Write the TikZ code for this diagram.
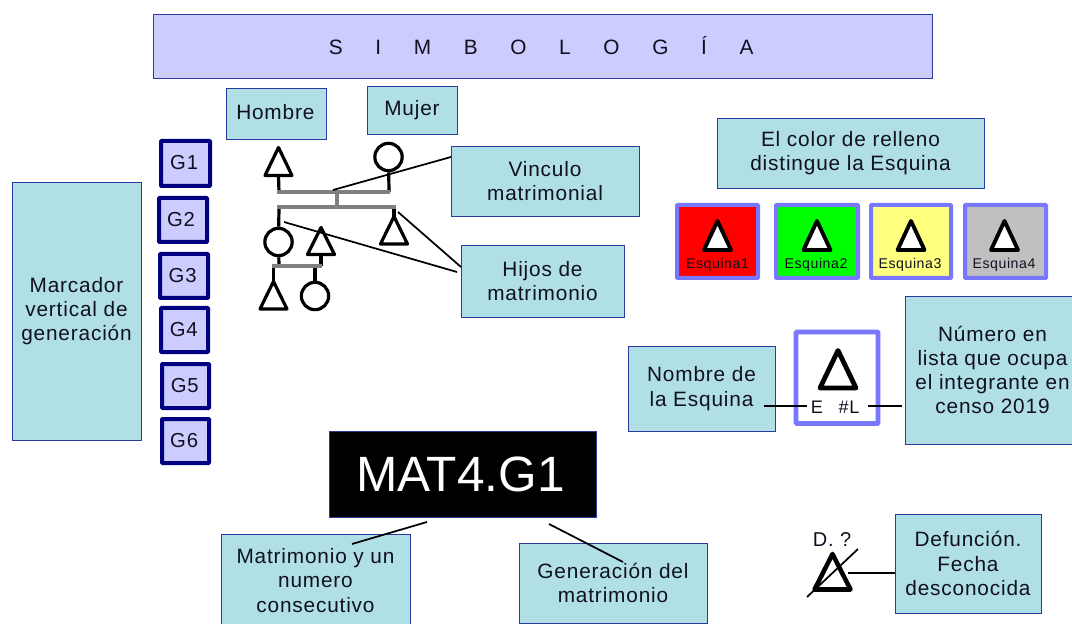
\documentclass[tikz,border=0pt]{standalone}
\usepackage{fontspec}
\setmainfont{Liberation Sans}[LetterSpace=4]
\definecolor{lblue}{HTML}{B0E0E6}
\definecolor{bedge}{HTML}{2A3A9E}
\definecolor{lav}{HTML}{CCCCFF}
\definecolor{navy2}{HTML}{000080}
\definecolor{peri}{HTML}{7777FF}
\definecolor{gbar}{HTML}{808080}
\definecolor{ink}{HTML}{101020}
\tikzset{
 x=0.75pt,y=-0.75pt,
 lbl/.style={draw=bedge,line width=0.7pt,fill=lblue,align=center,inner sep=0pt,text=ink,font=\fontsize{15.6}{18.2}\selectfont},
 gen/.style={draw=navy2,line width=3pt,fill=lav,inner sep=0pt,text=ink,text depth=1pt,rounded corners=0.6pt,font=\fontsize{15.2}{18}\selectfont},
 corner/.style={draw=peri,line width=3pt,inner sep=0pt,rounded corners=0.6pt},
 person/.style={draw=black,line width=2.4pt,fill=white,line join=round},
 stem/.style={draw=black,line width=2.4pt},
 bar/.style={draw=gbar,line width=2.7pt},
 lead/.style={draw=black,line width=1.3pt},
 small/.style={inner sep=0pt,text=ink,font=\fontsize{10.6}{12}\selectfont},
 bigtag/.style={inner sep=0pt,text=ink,font=\fontsize{13.6}{15}\selectfont},
}
% name, L, T, R, B, style, text
\newcommand\bx[7]{%
 \pgfmathsetmacro\bw{0.75*(#4-#2)}\pgfmathsetmacro\bh{0.75*(#5-#3)}%
 \node[#6,minimum width=\bw pt,minimum height=\bh pt] (#1) at ({(#2+#4)/2},{(#3+#5)/2}) {#7};}
% name, cx, apex y, half base, base y, width
\newcommand\tri[6]{%
 \draw[person,line width=#6] (#2,#3) -- ({#2-#4},#5) -- ({#2+#4},#5) -- cycle;
 \coordinate (#1) at (#2,#5);}
\newcommand\cir[3]{%
 \node[person,circle,minimum size=20.5pt,inner sep=0pt] (#1) at (#2,#3) {};}
\begin{document}
\begin{tikzpicture}
\useasboundingbox (0,0) rectangle (1072,624);
\clip (0,0) rectangle (1072,624);
\bx{title}{153}{14}{932}{78}{lbl,fill=lav}{\hspace*{-2pt}\spaceskip=24.5pt S I M B O L O G Í A}
\bx{hombre}{226}{88}{326}{139}{lbl,text depth=3pt}{\hspace*{-1pt}Hombre}
\bx{mujer}{367}{86}{457}{134}{lbl}{Mujer}
\bx{g1}{161}{141}{210}{186}{gen}{\hspace*{-2pt}G1}
\bx{g2}{159}{198}{207}{242}{gen}{\hspace*{-3pt}G2}
\bx{g3}{160}{254}{208}{298}{gen}{\hspace*{-2pt}G3}
\bx{g4}{161}{308}{208}{352}{gen}{\hspace*{-1pt}G4}
\bx{g5}{162}{364}{209}{408}{gen}{\hspace*{-1pt}G5}
\bx{g6}{162}{419}{209}{463}{gen}{\hspace*{-2pt}G6}
\bx{marc}{12}{182}{141}{440}{lbl}{Marcador\\vertical de\\generación}
\bx{vinc}{451}{146}{639}{216}{lbl}{Vinculo\\matrimonial}
\bx{hijos}{461}{245}{624}{317}{lbl}{Hijos de\\matrimonio}
\bx{color}{717}{118}{984}{188}{lbl}{El color de relleno\\distingue la Esquina}
\bx{e1}{677}{205}{758}{278}{corner,fill=red}{}
\bx{e2}{776}{205}{858}{278}{corner,fill=green}{}
\bx{e3}{871}{205}{951}{278}{corner,fill={rgb,255:red,255;green,255;blue,128}}{}
\bx{e4}{965}{205}{1046}{278}{corner,fill={rgb,255:red,192;green,192;blue,192}}{}
\tri{t1}{717.5}{221}{13.5}{250}{2.9pt}
\tri{t2}{817}{221}{13.5}{250}{2.9pt}
\tri{t3}{911}{221}{13.5}{250}{2.9pt}
\tri{t4}{1004.5}{221}{13.5}{250}{2.9pt}
\node[small] (l1) at (717.5,264.5) {Esquina1};
\node[small] (l2) at (816,264.5) {Esquina2};
\node[small] (l3) at (910,264.5) {Esquina3};
\node[small] (l4) at (1004,264.5) {Esquina4};
% pedigree
\tri{pa}{278.5}{147.5}{13.5}{175.5}{2.4pt}
\cir{ma}{388.5}{157}
\tri{tb}{321}{227.5}{13.5}{254.5}{2.4pt}
\cir{cb}{278.5}{242}
\tri{tc}{394}{216.5}{13.5}{244}{2.4pt}
\tri{td}{273.5}{281.5}{13.5}{309}{2.4pt}
\cir{ce}{315}{296}
\coordinate (b1l) at (277,192); \coordinate (b1r) at (390,192);
\coordinate (b2l) at (277,207); \coordinate (b2r) at (396,207);
\coordinate (b3l) at (272,266); \coordinate (b3r) at (322,266);
\coordinate (b1m) at (337,192); \coordinate (b2m) at (337,207);
\coordinate (s1) at (279,192); \coordinate (s2) at (389,192);
\coordinate (s3) at (279,207); \coordinate (s4) at (394,207); \coordinate (s4b) at (394,218);
\coordinate (s5) at (279,266); \coordinate (s6) at (321,266);
\coordinate (s7) at (273.5,266); \coordinate (s7b) at (273.5,283);
\coordinate (s8) at (315,266);
\draw[stem] (pa) -- (s1);
\draw[stem] (ma) -- (s2);
\draw[stem] (s3) -- (cb);
\draw[stem] (s4) -- (s4b);
\draw[stem] (cb) -- (s5);
\draw[stem] (tb) -- (s6);
\draw[stem] (s7) -- (s7b);
\draw[stem] (s8) -- (ce);
\draw[bar] (b1l) -- (b1r);
\draw[bar] (b2l) -- (b2r);
\draw[bar] (b3l) -- (b3r);
\draw[bar] (b1m) -- (b2m);
\coordinate (a1) at (333,190); \coordinate (a2) at (284,222); \coordinate (a3) at (398,212);
\coordinate (a4) at (457,272); \coordinate (a5) at (461,267); \coordinate (a6) at (451,157);
\draw[lead] (a6) -- (a1);
\draw[lead] (a2) -- (a4);
\draw[lead] (a3) -- (a5);
% explained corner box
\bx{nombre}{628}{346}{775}{431}{lbl}{Nombre de\\la Esquina}
\bx{numero}{905}{296}{1080}{444}{lbl}{Número en\\lista que ocupa\\el integrante en\\censo 2019}
\bx{big}{796}{332}{878}{423.5}{corner,line width=3.5pt,fill=white}{}
\tri{tbig}{838}{350.5}{18}{388}{3.6pt}
\node[bigtag] (el) at (817,407) {E};
\node[bigtag] (ll) at (849,407) {\#L};
\coordinate (n1) at (764,406); \coordinate (n2) at (807,406);
\coordinate (n3) at (868,406); \coordinate (n4) at (902,406);
\draw[lead,line width=1.5pt] (n1) -- (n2);
\draw[lead,line width=1.5pt] (n3) -- (n4);
% code
\bx{code}{329}{431}{596}{517}{draw=bedge,line width=0.7pt,fill=black,text=white,inner sep=0pt,font=\fontsize{37.2}{40}\selectfont\addfontfeature{LetterSpace=0}}{\hspace*{-3pt}MAT4.G1}
\bx{matr}{221}{534}{410}{627}{lbl}{Matrimonio y un\\numero\\consecutivo}
\bx{gener}{519}{543}{707}{623}{lbl}{Generación del\\matrimonio}
\coordinate (c1) at (352,544); \coordinate (c2) at (427,522);
\coordinate (c3) at (549,524); \coordinate (c4) at (623,562);
\draw[lead] (c1) -- (c2);
\draw[lead] (c3) -- (c4);
% death
\bx{def}{895}{514}{1041}{613}{lbl}{Defunción.\\Fecha\\desconocida}
\tri{td2}{832.5}{554}{18}{589.5}{3.4pt}
\node[inner sep=0pt,text=ink,font=\fontsize{15}{17}\selectfont] (dq) at (832,540) {D. ?};
\coordinate (d1) at (807,597); \coordinate (d2) at (858,549);
\coordinate (d3) at (848,573);
\draw[lead] (d1) -- (d2);
\draw[lead,line width=1.5pt] (d3) -- (def.west |- d3);
\end{tikzpicture}
\end{document}
